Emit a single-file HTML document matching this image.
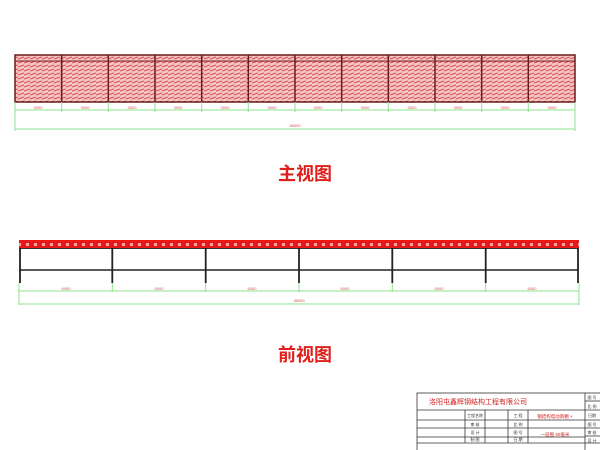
<!DOCTYPE html>
<html><head><meta charset="utf-8"><style>
body{margin:0;background:#fff;width:600px;height:450px;overflow:hidden}
svg{display:block}
</style></head><body>
<svg width="600" height="450" xmlns="http://www.w3.org/2000/svg" font-family="Liberation Sans, Noto Sans CJK SC, sans-serif">
<defs>
<pattern id="h" width="6" height="4" patternUnits="userSpaceOnUse">
<rect width="6" height="4" fill="#f3c4c4"/>
<path d="M0 3 L6 1" stroke="#d84a4a" stroke-width="1"/>
</pattern>
<pattern id="r" width="8" height="8" patternUnits="userSpaceOnUse">
<rect width="8" height="8" fill="#e81818"/>
<rect x="2" y="3" width="3" height="3" fill="#f6a0a0"/>
</pattern>
</defs>
<!-- top view -->
<rect x="15" y="55" width="560" height="47" fill="url(#h)" stroke="#6a1a1a" stroke-width="1.5"/>
<line x1="15" y1="61" x2="575" y2="61" stroke="#7a2a2a" stroke-width="1"/>
<g stroke="#6a1a1a" stroke-width="1.5">
<line x1="61.7" y1="55" x2="61.7" y2="102"/><line x1="108.3" y1="55" x2="108.3" y2="102"/><line x1="155" y1="55" x2="155" y2="102"/><line x1="201.7" y1="55" x2="201.7" y2="102"/><line x1="248.3" y1="55" x2="248.3" y2="102"/><line x1="295" y1="55" x2="295" y2="102"/><line x1="341.7" y1="55" x2="341.7" y2="102"/><line x1="388.3" y1="55" x2="388.3" y2="102"/><line x1="435" y1="55" x2="435" y2="102"/><line x1="481.7" y1="55" x2="481.7" y2="102"/><line x1="528.3" y1="55" x2="528.3" y2="102"/>
</g>
<g stroke="#8ee08e" stroke-width="1">
<line x1="15" y1="110" x2="575" y2="110"/><line x1="15" y1="129" x2="575" y2="129"/>
<line x1="15" y1="102" x2="15" y2="131"/><line x1="575" y1="102" x2="575" y2="131"/>
<line x1="61.7" y1="102" x2="61.7" y2="112"/><line x1="108.3" y1="102" x2="108.3" y2="112"/><line x1="155" y1="102" x2="155" y2="112"/><line x1="201.7" y1="102" x2="201.7" y2="112"/><line x1="248.3" y1="102" x2="248.3" y2="112"/><line x1="295" y1="102" x2="295" y2="112"/><line x1="341.7" y1="102" x2="341.7" y2="112"/><line x1="388.3" y1="102" x2="388.3" y2="112"/><line x1="435" y1="102" x2="435" y2="112"/><line x1="481.7" y1="102" x2="481.7" y2="112"/><line x1="528.3" y1="102" x2="528.3" y2="112"/>
</g>
<g fill="#d05050" font-size="4" text-anchor="middle">
<text x="38" y="109">3000</text><text x="85" y="109">3000</text><text x="132" y="109">3000</text><text x="178" y="109">3000</text><text x="225" y="109">3000</text><text x="272" y="109">3000</text><text x="318" y="109">3000</text><text x="365" y="109">3000</text><text x="412" y="109">3000</text><text x="458" y="109">3000</text><text x="505" y="109">3000</text><text x="552" y="109">3000</text>
<text x="295" y="127">36000</text>
</g>
<text x="305" y="180" fill="#e0201c" font-size="18" font-weight="bold" text-anchor="middle">主视图</text>
<!-- front view -->
<rect x="19" y="240" width="560" height="8" fill="url(#r)"/>
<line x1="19" y1="248.5" x2="579" y2="248.5" stroke="#333" stroke-width="1"/>
<line x1="19" y1="270" x2="579" y2="270" stroke="#222" stroke-width="1.5"/>
<g stroke="#222" stroke-width="1.8">
<line x1="20" y1="248" x2="20" y2="283"/><line x1="112.3" y1="248" x2="112.3" y2="283"/><line x1="205.7" y1="248" x2="205.7" y2="283"/><line x1="299" y1="248" x2="299" y2="283"/><line x1="392.3" y1="248" x2="392.3" y2="283"/><line x1="485.7" y1="248" x2="485.7" y2="283"/><line x1="578" y1="248" x2="578" y2="283"/>
</g>
<g stroke="#8ee08e" stroke-width="1">
<line x1="19" y1="291" x2="579" y2="291"/><line x1="19" y1="304" x2="579" y2="304"/>
<line x1="19" y1="283" x2="19" y2="305"/><line x1="579" y1="283" x2="579" y2="305"/>
<line x1="112.3" y1="283" x2="112.3" y2="292"/><line x1="205.7" y1="283" x2="205.7" y2="292"/><line x1="299" y1="283" x2="299" y2="292"/><line x1="392.3" y1="283" x2="392.3" y2="292"/><line x1="485.7" y1="283" x2="485.7" y2="292"/>
</g>
<g fill="#d05050" font-size="4" text-anchor="middle">
<text x="66" y="290">6000</text><text x="159" y="290">6000</text><text x="252" y="290">6000</text><text x="345" y="290">6000</text><text x="439" y="290">6000</text><text x="532" y="290">6000</text>
<text x="299" y="302">36000</text>
</g>
<text x="305" y="361" fill="#e0201c" font-size="18" font-weight="bold" text-anchor="middle">前视图</text>
<!-- title block -->
<g stroke="#333" stroke-width="0.8" fill="none">
<rect x="417" y="393" width="190" height="60"/>
<line x1="585" y1="393" x2="585" y2="450"/>
<line x1="417" y1="410" x2="600" y2="410"/>
<line x1="417" y1="420" x2="600" y2="420"/>
<line x1="417" y1="428" x2="600" y2="428"/>
<line x1="417" y1="437" x2="585" y2="437"/>
<line x1="417" y1="443" x2="600" y2="443"/>
<line x1="465" y1="410" x2="465" y2="443"/>
<line x1="485" y1="410" x2="485" y2="443"/>
<line x1="508" y1="410" x2="508" y2="443"/>
<line x1="528" y1="410" x2="528" y2="443"/>
<line x1="585" y1="401" x2="600" y2="401"/>
<line x1="585" y1="436" x2="600" y2="436"/>
</g>
<text x="478" y="404" fill="#d02020" font-size="7" text-anchor="middle">洛阳屯鑫辉钢结构工程有限公司</text>
<g font-size="4" fill="#333" text-anchor="middle">
<text x="475" y="417">工程名称</text><text x="475" y="426">审 核</text><text x="475" y="434">设 计</text><text x="475" y="441">制 图</text>
<text x="518" y="417">工 程</text><text x="518" y="426">比 例</text><text x="518" y="434">图 号</text><text x="518" y="441">日 期</text>
<text x="592" y="399">图 号</text><text x="592" y="408">比 例</text><text x="592" y="417">日期</text><text x="592" y="426">图 号</text><text x="592" y="434">审 核</text><text x="592" y="442">设 计</text>
</g>
<text x="555" y="418" font-size="4.5" fill="#d02020" text-anchor="middle">钢结构电动雨棚 ×</text>
<text x="555" y="436" font-size="4.5" fill="#d02020" text-anchor="middle">一层图 90毫米</text>
</svg>
</body></html>
